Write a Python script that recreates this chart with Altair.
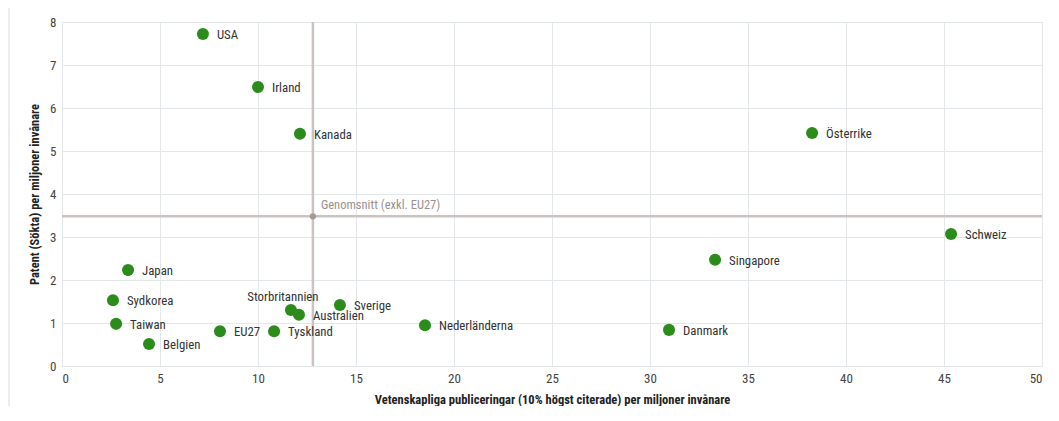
import altair as alt
import pandas as pd

countries = ["USA", "Irland", "Kanada", "Österrike", "Schweiz", "Singapore", "Danmark",
             "Nederländerna", "Sverige", "Storbritannien", "Australien", "Tyskland",
             "EU27", "Japan", "Sydkorea", "Taiwan", "Belgien"]
publications = [7.19, 10.0, 12.14, 38.27, 45.36, 33.32, 30.97,
                18.52, 14.18, 11.68, 12.09, 10.82,
                8.06, 3.37, 2.60, 2.76, 4.44]
patents = [7.72, 6.49, 5.40, 5.42, 3.07, 2.47, 0.84,
           0.95, 1.42, 1.30, 1.19, 0.81,
           0.81, 2.23, 1.53, 0.98, 0.51]
avg_x = 12.8
avg_y = 3.48
avg_label = "Genomsnitt (exkl. EU27)"
x_title = "Vetenskapliga publiceringar (10% högst citerade) per miljoner invånare"
y_title = "Patent (Sökta) per miljoner invånare"

df = pd.DataFrame({"land": countries, "pub": publications, "pat": patents})
df_right = df[df["land"] != "Storbritannien"]
df_above = df[df["land"] == "Storbritannien"]
avg = pd.DataFrame({"x": [avg_x], "y": [avg_y], "label": [avg_label]})

FONT = "Roboto Condensed, Roboto, sans-serif"

xs = alt.Scale(domain=[0, 50], nice=False)
ys = alt.Scale(domain=[0, 8], nice=False)

X = alt.X("pub:Q", scale=xs, title=x_title,
          axis=alt.Axis(values=list(range(0, 51, 5)), grid=True, ticks=False, domain=True))
Y = alt.Y("pat:Q", scale=ys, title=y_title,
          axis=alt.Axis(values=list(range(0, 9)), grid=True, ticks=False, domain=True))

vline = alt.Chart(avg).mark_rule(color="#cbc3c0", strokeWidth=2.5).encode(
    x=alt.X("x:Q", scale=xs), y=alt.value(0), y2=alt.value(344))
hline = alt.Chart(avg).mark_rule(color="#cbc3c0", strokeWidth=2.5).encode(
    y=alt.Y("y:Q", scale=ys), x=alt.value(0), x2=alt.value(980))
avg_dot = alt.Chart(avg).mark_circle(color="#a39a97", size=40, opacity=1).encode(
    x=alt.X("x:Q", scale=xs), y=alt.Y("y:Q", scale=ys))
avg_text = alt.Chart(avg).mark_text(align="left", baseline="bottom", dx=8, dy=-4,
                                    color="#9a918e", fontSize=12.5, font=FONT).encode(
    x=alt.X("x:Q", scale=xs), y=alt.Y("y:Q", scale=ys), text="label:N")

points = alt.Chart(df).mark_circle(color="#2b8c1c", size=145, opacity=1).encode(x=X, y=Y)
labels = alt.Chart(df_right).mark_text(align="left", baseline="middle", dx=14, dy=1,
                                       color="#333333", fontSize=12.8, font=FONT).encode(
    x=alt.X("pub:Q", scale=xs), y=alt.Y("pat:Q", scale=ys), text="land:N")
label_above = alt.Chart(df_above).mark_text(align="center", baseline="middle", dx=-8, dy=-13,
                                            color="#333333", fontSize=12.8, font=FONT).encode(
    x=alt.X("pub:Q", scale=xs), y=alt.Y("pat:Q", scale=ys), text="land:N")

frame_top = alt.Chart(avg).mark_rule(color="#e3e7ea", strokeWidth=1.5).encode(
    x=alt.value(-53), x2=alt.value(1000), y=alt.value(-15))
frame_left = alt.Chart(avg).mark_rule(color="#e3e7ea", strokeWidth=1.5).encode(
    x=alt.value(-53), y=alt.value(-15), y2=alt.value(420))

chart = alt.layer(points, vline, hline, avg_dot, avg_text, labels, label_above,
                  frame_top, frame_left).properties(
    width=980, height=344,
    autosize=alt.AutoSizeParams(type="none"),
    padding={"left": 54, "top": 14, "right": 5, "bottom": 40},
).configure_view(stroke=None).configure_axis(
    gridColor="#e3e7ea", domainColor="#e3e7ea", gridWidth=1,
    labelColor="#444444", labelFont=FONT, labelFontSize=13, labelPadding=6,
    titleFont=FONT, titleFontSize=12.5, titleFontWeight="bold", titleColor="#222222",
).configure_axisX(titlePadding=8).configure_axisY(titlePadding=8)

chart.save("out.html", embed_options={"renderer": "svg", "actions": False})
